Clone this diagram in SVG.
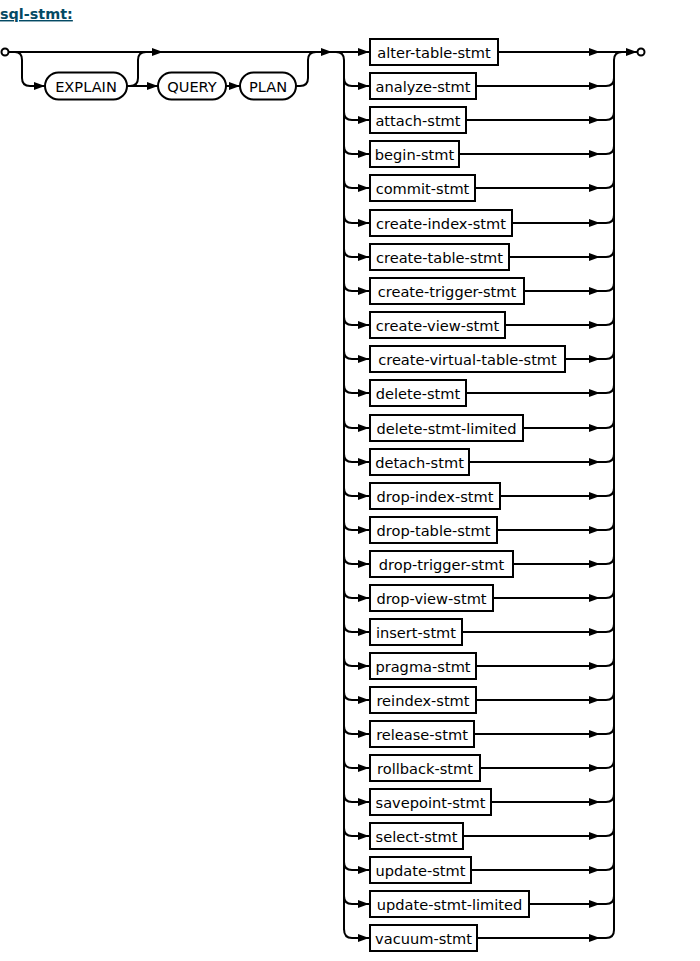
<svg xmlns="http://www.w3.org/2000/svg" width="700" height="961" viewBox="0 0 700 961">
<style>
.ln{fill:none;stroke:#000;stroke-width:2}
.ar{fill:none;stroke:#000;stroke-width:2;marker-end:url(#ah)}
.bx{fill:#fff;stroke:#000;stroke-width:2}
.tx{font-family:"DejaVu Sans",Verdana,sans-serif;font-size:14.6px;fill:#000;text-anchor:middle;dominant-baseline:central}
.title{font-family:"DejaVu Sans",Verdana,sans-serif;font-size:14.4px;font-weight:bold;fill:#044a64;text-decoration:underline}
</style>
<defs>
<marker id="ah" markerUnits="userSpaceOnUse" markerWidth="12" markerHeight="10" refX="11" refY="4" orient="auto" viewBox="0 0 12 8"><path d="M0,0 L11,4 L0,8 z" fill="#000"/></marker>
</defs>
<rect width="700" height="961" fill="#fff"/>
<text class="title" x="0" y="19">sql-stmt:</text>
<g id="connectors">
<circle cx="5" cy="52" r="3.5" fill="#fff" stroke="#000" stroke-width="2"/>
<path class="ar" d="M8.5,52 H163"/>
<path class="ar" d="M163,52 H332"/>
<path class="ar" d="M332,52 H369"/>
<path class="ar" d="M15,52 Q22,52 22,60 V78 Q22,86 30,86 H45"/>
<path class="ar" d="M127,86 H158"/>
<path class="ln" d="M130,86 Q138,86 138,78 V60 Q138,52 146,52"/>
<path class="ar" d="M226,86 H240"/>
<path class="ln" d="M296,86 H300 Q308,86 308,78 V60 Q308,52 316,52"/>
<path class="ln" d="M336,52 Q344,52 344,60 V930"/>
<path class="ln" d="M606,938 Q614,938 614,930 V60 Q614,52 622,52"/>
<path class="ar" d="M600,52 H637"/>
<circle cx="641" cy="52" r="3.5" fill="#fff" stroke="#000" stroke-width="2"/>
<path class="ar" d="M344,78 Q344,86 352,86 H369"/>
<path class="ar" d="M344,112 Q344,120 352,120 H369"/>
<path class="ar" d="M344,146 Q344,154 352,154 H369"/>
<path class="ar" d="M344,180 Q344,188 352,188 H369"/>
<path class="ar" d="M344,215 Q344,223 352,223 H369"/>
<path class="ar" d="M344,249 Q344,257 352,257 H369"/>
<path class="ar" d="M344,283 Q344,291 352,291 H369"/>
<path class="ar" d="M344,317 Q344,325 352,325 H369"/>
<path class="ar" d="M344,351 Q344,359 352,359 H369"/>
<path class="ar" d="M344,385 Q344,393 352,393 H369"/>
<path class="ar" d="M344,420 Q344,428 352,428 H369"/>
<path class="ar" d="M344,454 Q344,462 352,462 H369"/>
<path class="ar" d="M344,488 Q344,496 352,496 H369"/>
<path class="ar" d="M344,522 Q344,530 352,530 H369"/>
<path class="ar" d="M344,556 Q344,564 352,564 H369"/>
<path class="ar" d="M344,590 Q344,598 352,598 H369"/>
<path class="ar" d="M344,624 Q344,632 352,632 H369"/>
<path class="ar" d="M344,658 Q344,666 352,666 H369"/>
<path class="ar" d="M344,692 Q344,700 352,700 H369"/>
<path class="ar" d="M344,726 Q344,734 352,734 H369"/>
<path class="ar" d="M344,760 Q344,768 352,768 H369"/>
<path class="ar" d="M344,794 Q344,802 352,802 H369"/>
<path class="ar" d="M344,828 Q344,836 352,836 H369"/>
<path class="ar" d="M344,862 Q344,870 352,870 H369"/>
<path class="ar" d="M344,896 Q344,904 352,904 H369"/>
<path class="ar" d="M344,929 Q344,938 352,938 H369"/>
<path class="ar" d="M498,52 H600"/>
<path class="ar" d="M476,86 H600"/><path class="ln" d="M600,86 H606 Q614,86 614,78"/>
<path class="ar" d="M466,120 H600"/><path class="ln" d="M600,120 H606 Q614,120 614,112"/>
<path class="ar" d="M459,154 H600"/><path class="ln" d="M600,154 H606 Q614,154 614,146"/>
<path class="ar" d="M475,188 H600"/><path class="ln" d="M600,188 H606 Q614,188 614,180"/>
<path class="ar" d="M512,223 H600"/><path class="ln" d="M600,223 H606 Q614,223 614,215"/>
<path class="ar" d="M509,257 H600"/><path class="ln" d="M600,257 H606 Q614,257 614,249"/>
<path class="ar" d="M524,291 H600"/><path class="ln" d="M600,291 H606 Q614,291 614,283"/>
<path class="ar" d="M505,325 H600"/><path class="ln" d="M600,325 H606 Q614,325 614,317"/>
<path class="ar" d="M565,359 H600"/><path class="ln" d="M600,359 H606 Q614,359 614,351"/>
<path class="ar" d="M466,393 H600"/><path class="ln" d="M600,393 H606 Q614,393 614,385"/>
<path class="ar" d="M523,428 H600"/><path class="ln" d="M600,428 H606 Q614,428 614,420"/>
<path class="ar" d="M469,462 H600"/><path class="ln" d="M600,462 H606 Q614,462 614,454"/>
<path class="ar" d="M500,496 H600"/><path class="ln" d="M600,496 H606 Q614,496 614,488"/>
<path class="ar" d="M497,530 H600"/><path class="ln" d="M600,530 H606 Q614,530 614,522"/>
<path class="ar" d="M513,564 H600"/><path class="ln" d="M600,564 H606 Q614,564 614,556"/>
<path class="ar" d="M493,598 H600"/><path class="ln" d="M600,598 H606 Q614,598 614,590"/>
<path class="ar" d="M462,632 H600"/><path class="ln" d="M600,632 H606 Q614,632 614,624"/>
<path class="ar" d="M476,666 H600"/><path class="ln" d="M600,666 H606 Q614,666 614,658"/>
<path class="ar" d="M476,700 H600"/><path class="ln" d="M600,700 H606 Q614,700 614,692"/>
<path class="ar" d="M474,734 H600"/><path class="ln" d="M600,734 H606 Q614,734 614,726"/>
<path class="ar" d="M480,768 H600"/><path class="ln" d="M600,768 H606 Q614,768 614,760"/>
<path class="ar" d="M491,802 H600"/><path class="ln" d="M600,802 H606 Q614,802 614,794"/>
<path class="ar" d="M463,836 H600"/><path class="ln" d="M600,836 H606 Q614,836 614,828"/>
<path class="ar" d="M471,870 H600"/><path class="ln" d="M600,870 H606 Q614,870 614,862"/>
<path class="ar" d="M529,904 H600"/><path class="ln" d="M600,904 H606 Q614,904 614,896"/>
<path class="ar" d="M477,938 H600"/><path class="ln" d="M600,938 H606"/>
</g>
<g id="EXPLAIN"><rect class="bx" x="45" y="72.5" width="82" height="27" rx="13.5"/><text class="tx" x="86" y="86">EXPLAIN</text></g>
<g id="QUERY"><rect class="bx" x="158" y="72.5" width="68" height="27" rx="13.5"/><text class="tx" x="192" y="86">QUERY</text></g>
<g id="PLAN"><rect class="bx" x="240" y="72.5" width="56" height="27" rx="13.5"/><text class="tx" x="268" y="86">PLAN</text></g>
<g id="alter-table-stmt"><rect class="bx" x="370" y="39" width="128" height="26"/><text class="tx" x="434" y="52">alter-table-stmt</text></g>
<g id="analyze-stmt"><rect class="bx" x="370" y="73" width="106" height="26"/><text class="tx" x="423" y="86">analyze-stmt</text></g>
<g id="attach-stmt"><rect class="bx" x="370" y="107" width="96" height="26"/><text class="tx" x="418" y="120">attach-stmt</text></g>
<g id="begin-stmt"><rect class="bx" x="370" y="141" width="89" height="26"/><text class="tx" x="414.5" y="154">begin-stmt</text></g>
<g id="commit-stmt"><rect class="bx" x="370" y="175" width="105" height="26"/><text class="tx" x="422.5" y="188">commit-stmt</text></g>
<g id="create-index-stmt"><rect class="bx" x="370" y="210" width="142" height="26"/><text class="tx" x="441" y="223">create-index-stmt</text></g>
<g id="create-table-stmt"><rect class="bx" x="370" y="244" width="139" height="26"/><text class="tx" x="439.5" y="257">create-table-stmt</text></g>
<g id="create-trigger-stmt"><rect class="bx" x="370" y="278" width="154" height="26"/><text class="tx" x="447" y="291">create-trigger-stmt</text></g>
<g id="create-view-stmt"><rect class="bx" x="370" y="312" width="135" height="26"/><text class="tx" x="437.5" y="325">create-view-stmt</text></g>
<g id="create-virtual-table-stmt"><rect class="bx" x="370" y="346" width="195" height="26"/><text class="tx" x="467.5" y="359">create-virtual-table-stmt</text></g>
<g id="delete-stmt"><rect class="bx" x="370" y="380" width="96" height="26"/><text class="tx" x="418" y="393">delete-stmt</text></g>
<g id="delete-stmt-limited"><rect class="bx" x="370" y="415" width="153" height="26"/><text class="tx" x="446.5" y="428">delete-stmt-limited</text></g>
<g id="detach-stmt"><rect class="bx" x="370" y="449" width="99" height="26"/><text class="tx" x="419.5" y="462">detach-stmt</text></g>
<g id="drop-index-stmt"><rect class="bx" x="370" y="483" width="130" height="26"/><text class="tx" x="435" y="496">drop-index-stmt</text></g>
<g id="drop-table-stmt"><rect class="bx" x="370" y="517" width="127" height="26"/><text class="tx" x="433.5" y="530">drop-table-stmt</text></g>
<g id="drop-trigger-stmt"><rect class="bx" x="370" y="551" width="143" height="26"/><text class="tx" x="441.5" y="564">drop-trigger-stmt</text></g>
<g id="drop-view-stmt"><rect class="bx" x="370" y="585" width="123" height="26"/><text class="tx" x="431.5" y="598">drop-view-stmt</text></g>
<g id="insert-stmt"><rect class="bx" x="370" y="619" width="92" height="26"/><text class="tx" x="416" y="632">insert-stmt</text></g>
<g id="pragma-stmt"><rect class="bx" x="370" y="653" width="106" height="26"/><text class="tx" x="423" y="666">pragma-stmt</text></g>
<g id="reindex-stmt"><rect class="bx" x="370" y="687" width="106" height="26"/><text class="tx" x="423" y="700">reindex-stmt</text></g>
<g id="release-stmt"><rect class="bx" x="370" y="721" width="104" height="26"/><text class="tx" x="422" y="734">release-stmt</text></g>
<g id="rollback-stmt"><rect class="bx" x="370" y="755" width="110" height="26"/><text class="tx" x="425" y="768">rollback-stmt</text></g>
<g id="savepoint-stmt"><rect class="bx" x="370" y="789" width="121" height="26"/><text class="tx" x="430.5" y="802">savepoint-stmt</text></g>
<g id="select-stmt"><rect class="bx" x="370" y="823" width="93" height="26"/><text class="tx" x="416.5" y="836">select-stmt</text></g>
<g id="update-stmt"><rect class="bx" x="370" y="857" width="101" height="26"/><text class="tx" x="420.5" y="870">update-stmt</text></g>
<g id="update-stmt-limited"><rect class="bx" x="370" y="891" width="159" height="26"/><text class="tx" x="449.5" y="904">update-stmt-limited</text></g>
<g id="vacuum-stmt"><rect class="bx" x="370" y="925" width="107" height="26"/><text class="tx" x="423.5" y="938">vacuum-stmt</text></g>
</svg>
